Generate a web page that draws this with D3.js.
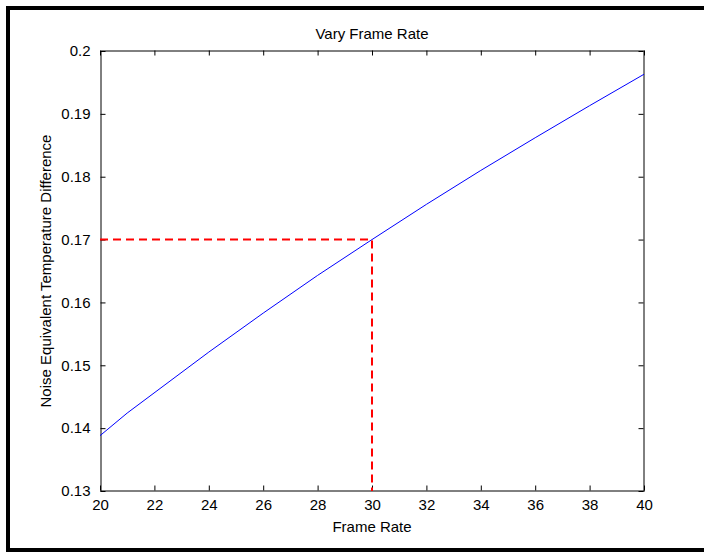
<!DOCTYPE html>
<html>
<head>
<meta charset="utf-8">
<script src="https://cdn.jsdelivr.net/npm/d3@7"></script>
<style>
  html, body { margin: 0; padding: 0; background: #fff; }
  svg { display: block; }
  text { font-family: "Liberation Sans", Arial, Helvetica, sans-serif; fill: #000; }
</style>
</head>
<body>
<svg id="chart" width="704" height="552"></svg>
<script>
// ---- data ----
const frameRate = [20, 21, 24, 26, 28, 30, 32, 34, 36, 38, 40];
const netd      = [0.1388, 0.1424, 0.1521, 0.1583, 0.1643, 0.1700, 0.1756, 0.1810, 0.1862, 0.1913, 0.1963];
const markerX = 30;
const markerY = 0.17;
const xTicks = [20, 22, 24, 26, 28, 30, 32, 34, 36, 38, 40];
const yTicks = [0.13, 0.14, 0.15, 0.16, 0.17, 0.18, 0.19, 0.2];
const titleText = "Vary Frame Rate";
const xLabelText = "Frame Rate";
const yLabelText = "Noise Equivalent Temperature Difference";

(function () {
  const svg = d3.select("#chart");
  const W = 704, H = 552;
  const mLeft = 100, mRight = 644, mTop = 51, mBottom = 491;

  svg.append("rect").attr("width", W).attr("height", H).attr("fill", "#fff");

  // outer figure frame (right side runs off the page)
  svg.append("rect")
    .attr("x", 8).attr("y", 8).attr("width", 720).attr("height", 542)
    .attr("fill", "none").attr("stroke", "#000").attr("stroke-width", 4);

  const x = d3.scaleLinear().domain([20, 40]).range([mLeft, mRight]);
  const y = d3.scaleLinear().domain([0.13, 0.2]).range([mBottom, mTop]);

  const fs = 15;
  const tickLen = 5;

  const gx = svg.append("g").attr("transform", `translate(0,${mBottom - 0.5})`)
    .call(d3.axisBottom(x).tickValues(xTicks).tickFormat(d3.format("d")).tickSizeInner(-tickLen).tickSizeOuter(0).tickPadding(9));
  const gxTop = svg.append("g").attr("transform", `translate(0,${mTop - 0.5})`)
    .call(d3.axisTop(x).tickValues(xTicks).tickFormat("").tickSizeInner(-tickLen).tickSizeOuter(0));
  const gy = svg.append("g").attr("transform", `translate(${mLeft + 0.5},0)`)
    .call(d3.axisLeft(y).tickValues(yTicks).tickFormat(d => String(+d.toFixed(2))).tickSizeInner(-tickLen).tickSizeOuter(0).tickPadding(10));
  const gyRight = svg.append("g").attr("transform", `translate(${mRight - 0.5},0)`)
    .call(d3.axisRight(y).tickValues(yTicks).tickFormat("").tickSizeInner(-tickLen).tickSizeOuter(0));

  [gx, gxTop, gy, gyRight].forEach(g => {
    g.selectAll(".domain").attr("stroke", "#000").attr("stroke-width", 1);
    g.selectAll(".tick line").attr("stroke", "#000").attr("stroke-width", 1);
    g.selectAll("text").attr("font-size", fs).attr("font-family", "Liberation Sans, Arial, sans-serif").attr("fill", "#000");
  });
  gx.selectAll("text").attr("dy", "0.71em");

  // blue curve
  const line = d3.line().x((d, i) => x(frameRate[i])).y(d => y(d));
  svg.append("path")
    .datum(netd)
    .attr("d", line)
    .attr("fill", "none")
    .attr("stroke", "#0000ff")
    .attr("stroke-width", 1);

  // red dashed guides
  const guide = [[20, markerY], [markerX, markerY], [markerX, 0.13]];
  svg.append("path")
    .datum(guide)
    .attr("d", d3.line().x(d => x(d[0])).y(d => y(d[1])))
    .attr("fill", "none")
    .attr("stroke", "#ff0000")
    .attr("stroke-width", 2)
    .attr("stroke-dasharray", "8,5");

  // labels
  svg.append("text").attr("x", (mLeft + mRight) / 2).attr("y", mTop - 12)
    .attr("text-anchor", "middle").attr("font-size", fs).text(titleText);
  svg.append("text").attr("x", (mLeft + mRight) / 2).attr("y", 532)
    .attr("text-anchor", "middle").attr("font-size", fs).text(xLabelText);
  svg.append("text")
    .attr("transform", `translate(51,${(mTop + mBottom) / 2}) rotate(-90)`)
    .attr("text-anchor", "middle").attr("font-size", fs).text(yLabelText);
})();
</script>
</body>
</html>
